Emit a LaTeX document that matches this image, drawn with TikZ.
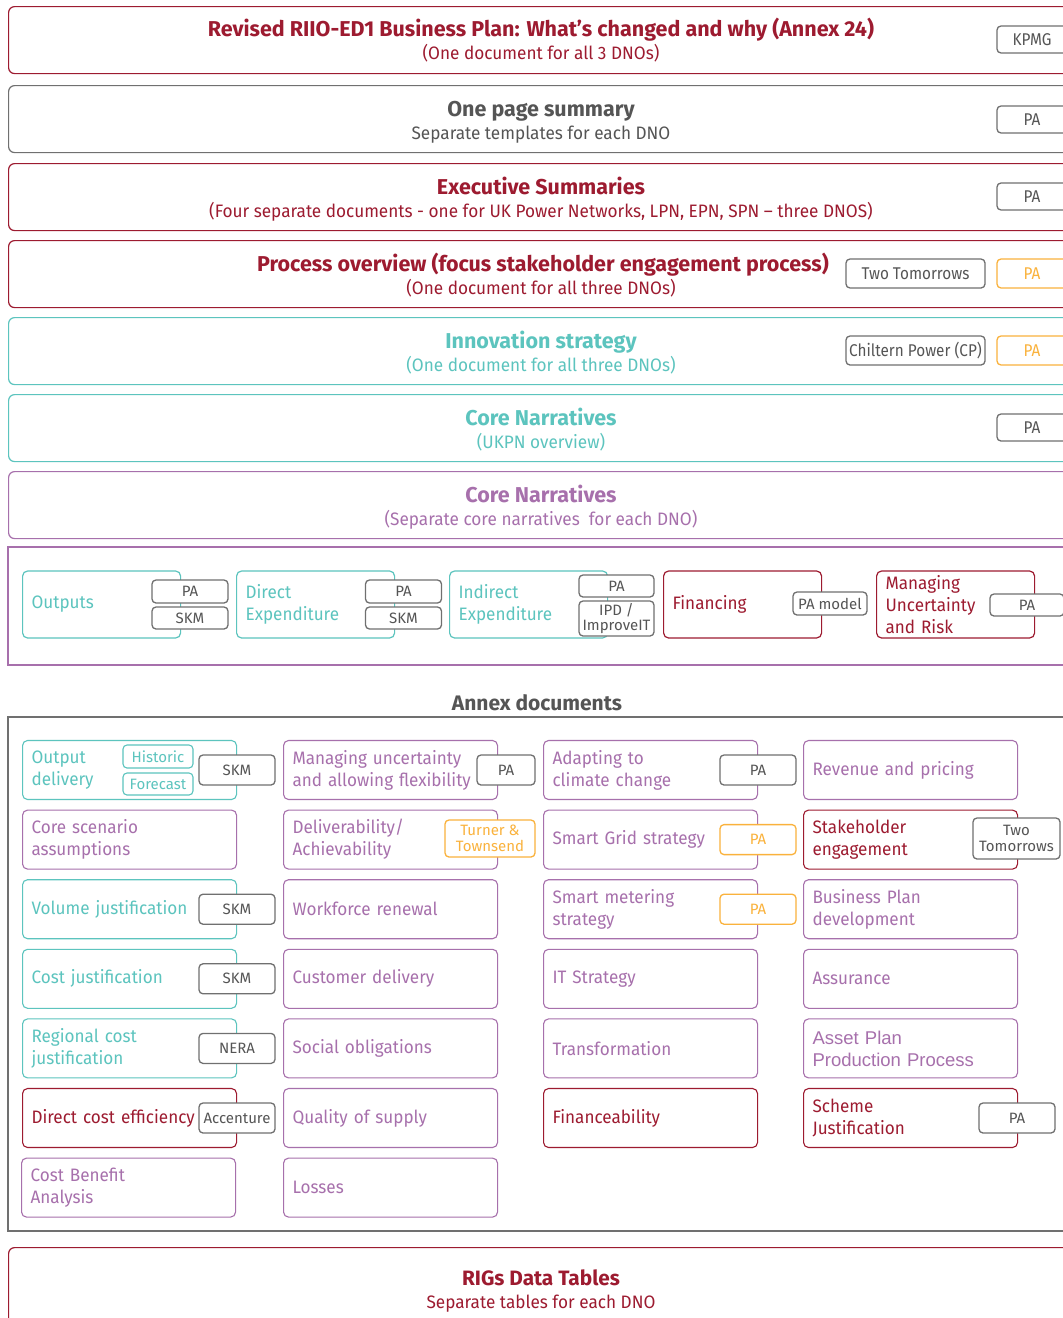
\documentclass[tikz,border=0pt]{standalone}
\usepackage{fontspec}
\setmainfont{Fira Sans}
\newfontfamily\condf[FakeStretch=0.955]{Fira Sans}
\newfontfamily\tagcondf[FakeStretch=0.9]{Fira Sans}
\newfontfamily\annexf[FakeStretch=0.95]{Fira Sans}
\newfontfamily\arialf{Liberation Sans}
\definecolor{cred}{RGB}{157,27,48}
\definecolor{cteal}{RGB}{92,196,190}
\definecolor{cpurple}{RGB}{167,112,172}
\definecolor{cgray}{RGB}{112,112,112}
\definecolor{ctxt}{RGB}{85,85,85}
\definecolor{corange}{RGB}{250,178,60}
\newcommand{\ttlfont}{\bfseries\fontsize{21.5}{24}\selectfont}
\newcommand{\subfont}{\condf\fontsize{18}{22}\selectfont}
\newcommand{\annexfont}{\annexf\fontsize{18}{22}\selectfont}
\newcommand{\tagfont}{\fontsize{15}{16}\selectfont}
\newcommand{\toptagfont}{\tagcondf\fontsize{17}{18}\selectfont}
\begin{document}
\begin{tikzpicture}[x=1pt,y=-1pt,
  frame/.style={draw=#1, line width=1.2pt, rounded corners=6pt, fill=white,
    inner sep=0pt, minimum width=1066pt, minimum height=67pt, anchor=north west},
  ttl/.style={text=#1, font=\ttlfont, anchor=base, inner sep=0pt},
  sub/.style={text=#1, font=\subfont, anchor=base, inner sep=0pt},
  tag/.style={draw=cgray, line width=1.3pt, rounded corners=4pt, fill=white,
    text=ctxt, inner sep=0pt, align=center, font=\tagfont},
  toptag/.style={tag, font=\toptagfont, minimum width=70pt, minimum height=27pt},
  otag/.style={draw=corange, text=corange},
  ttag/.style={draw=cteal, text=cteal, line width=1.1pt},
  mbox/.style={draw=#1, text=#1, line width=1.2pt, rounded corners=5pt, fill=white,
    text width=140pt, inner xsep=9pt, inner ysep=0pt, minimum height=67pt,
    align=left, anchor=west, font=\annexfont},
  abox/.style={draw=#1, text=#1, line width=1.1pt, rounded corners=5pt, fill=white,
    text width=196pt, inner xsep=9pt, inner ysep=0pt, minimum height=59pt,
    align=left, anchor=west, font=\annexfont},
]
\useasboundingbox (0,0) rectangle (1063,1318);
\clip (0,0) rectangle (1063,1318);
\fill[white] (0,0) rectangle (1063,1318);

% ---------- plan-level documents ----------
\node[frame=cred] (plan) at (8,6) {};
\node[ttl=cred] (planT) at (541,36) {Revised RIIO-ED1 Business Plan: What’s changed and why (Annex 24)};
\node[sub=cred] (planS) at (541,59) {(One document for all 3 DNOs)};
\node[toptag] (kpmg) at (1032,39.5) {KPMG};

\node[frame=cgray] (summ) at (8,85) {};
\node[ttl=ctxt] (summT) at (541,116) {One page summary};
\node[sub=ctxt] (summS) at (541,139) {Separate templates for each DNO};
\node[toptag] (summPA) at (1032,119.5) {PA};

\node[frame=cred] (exec) at (8,163) {};
\node[ttl=cred] (execT) at (541,194) {Executive Summaries};
\node[sub=cred] (execS) at (541,217) {(Four separate documents - one for UK Power Networks, LPN, EPN, SPN – three DNOS)};
\node[toptag] (execPA) at (1032,196.5) {PA};

\node[frame=cred] (proc) at (8,240) {};
\node[ttl=cred] (procT) at (543,271) {Process overview (focus stakeholder engagement process)};
\node[sub=cred] (procS) at (541,294) {(One document for all three DNOs)};
\node[toptag, minimum width=139pt, minimum height=29pt] (procTT) at (915.5,273.5) {Two Tomorrows};
\node[toptag, otag, minimum height=29pt] (procPA) at (1032,273.5) {PA};

\node[frame=cteal] (innov) at (8,317) {};
\node[ttl=cteal] (innovT) at (541,348) {Innovation strategy};
\node[sub=cteal] (innovS) at (541,371) {(One document for all three DNOs)};
\node[toptag, minimum width=139pt, minimum height=29pt] (innovCP) at (915.5,350.5) {Chiltern Power (CP)};
\node[toptag, otag, minimum height=29pt] (innovPA) at (1032,350.5) {PA};

\node[frame=cteal] (coreA) at (8,394) {};
\node[ttl=cteal] (coreAT) at (541,425) {Core Narratives};
\node[sub=cteal] (coreAS) at (541,448) {(UKPN overview)};
\node[toptag] (coreAPA) at (1032,427.5) {PA};

\node[frame=cpurple] (coreB) at (8,471) {};
\node[ttl=cpurple] (coreBT) at (541,502) {Core Narratives};
\node[sub=cpurple] (coreBS) at (541,525) {(Separate core narratives\ \ for each DNO)};

% ---------- core narrative chapters ----------
\draw[cpurple, line width=1.1pt] (8,547) rectangle (1075,665);
\node[mbox=cteal] (outp) at (22,604.5) {Outputs};
\node[tag, minimum width=76pt, minimum height=23pt] (outpPA) at (190,591.5) {PA};
\node[tag, minimum width=76pt, minimum height=22pt] (outpSKM) at (190,618) {SKM};

\node[mbox=cteal] (dexp) at (236,604.5) {Direct\\Expenditure};
\node[tag, minimum width=76pt, minimum height=23pt] (dexpPA) at (403.5,591.5) {PA};
\node[tag, minimum width=76pt, minimum height=22pt] (dexpSKM) at (403.5,618) {SKM};

\node[mbox=cteal] (iexp) at (449,604.5) {Indirect\\Expenditure};
\node[tag, minimum width=75pt, minimum height=22pt] (iexpPA) at (616.5,586) {PA};
\node[tag, minimum width=75pt, minimum height=35pt, font=\fontsize{15}{15}\selectfont] (iexpIPD) at (616.5,618.5) {IPD /\\ImproveIT};

\node[mbox=cred] (fin) at (663,604.5) {Financing};
\node[tag, minimum width=74pt, minimum height=23pt] (finPA) at (830,603.5) {PA model};

\node[mbox=cred] (mur) at (876,604.5) {Managing\\Uncertainty\\and Risk};
\node[tag, minimum width=74pt, minimum height=22pt] (murPA) at (1027,605) {PA};

% ---------- annex documents ----------
\node[text=ctxt, font=\bfseries\fontsize{21}{24}\selectfont, anchor=base, inner sep=0pt] (annexT) at (537,710) {Annex documents};
\draw[cgray, line width=1.2pt] (8,717) rectangle (1075,1231);

% column 1
\node[abox=cteal] (a11) at (22,770) {Output\\delivery};
\node[tag, ttag, minimum width=70pt, minimum height=23pt] (hist) at (158,756.5) {Historic};
\node[tag, ttag, minimum width=70pt, minimum height=22pt] (fore) at (158,784) {Forecast};
\node[tag, minimum width=76pt, minimum height=30pt] (a11t) at (237,770) {SKM};
\node[abox=cpurple] (a12) at (22,839.6) {Core scenario\\assumptions};
\node[abox=cteal] (a13) at (22,909.2) {Volume justification};
\node[tag, minimum width=76pt, minimum height=30pt] (a13t) at (237,909.2) {SKM};
\node[abox=cteal] (a14) at (22,978.8) {Cost justification};
\node[tag, minimum width=76pt, minimum height=30pt] (a14t) at (237,978.8) {SKM};
\node[abox=cteal] (a15) at (22,1048.4) {Regional cost\\justification};
\node[tag, minimum width=76pt, minimum height=30pt] (a15t) at (237,1048.4) {NERA};
\node[abox=cred] (a16) at (22,1118) {Direct cost efficiency};
\node[tag, minimum width=76pt, minimum height=30pt] (a16t) at (237,1118) {Accenture};
\node[abox=cpurple] (a17) at (21,1187.6) {Cost Benefit\\Analysis};

% column 2
\node[abox=cpurple] (a21) at (283,770) {Managing uncertainty\\and allowing flexibility};
\node[tag, minimum width=58pt, minimum height=30pt] (a21t) at (506,770) {PA};
\node[abox=cpurple] (a22) at (283,839.6) {Deliverability/\\Achievability};
\node[tag, otag, minimum width=90pt, minimum height=37pt, font=\fontsize{15}{16}\selectfont] (a22t) at (490,838.5) {Turner \&\\Townsend};
\node[abox=cpurple] (a23) at (283,909.2) {Workforce renewal};
\node[abox=cpurple] (a24) at (283,978.8) {Customer delivery};
\node[abox=cpurple] (a25) at (283,1048.4) {Social obligations};
\node[abox=cpurple] (a26) at (283,1118) {Quality of supply};
\node[abox=cpurple] (a27) at (283,1187.6) {Losses};

% column 3
\node[abox=cpurple] (a31) at (543,770) {Adapting to\\climate change};
\node[tag, minimum width=76pt, minimum height=30pt] (a31t) at (758,770) {PA};
\node[abox=cpurple] (a32) at (543,839.6) {Smart Grid strategy};
\node[tag, otag, minimum width=76pt, minimum height=30pt] (a32t) at (758,839.6) {PA};
\node[abox=cpurple] (a33) at (543,909.2) {Smart metering\\strategy};
\node[tag, otag, minimum width=76pt, minimum height=30pt] (a33t) at (758,909.2) {PA};
\node[abox=cpurple] (a34) at (543,978.8) {IT Strategy};
\node[abox=cpurple] (a35) at (543,1048.4) {Transformation};
\node[abox=cred] (a36) at (543,1118) {Financeability};

% column 4
\node[abox=cpurple] (a41) at (803,770) {Revenue and pricing};
\node[abox=cred] (a42) at (803,839.6) {Stakeholder\\engagement};
\node[tag, minimum width=87pt, minimum height=41pt, font=\fontsize{15}{16}\selectfont] (a42t) at (1016.5,838.5) {Two\\Tomorrows};
\node[abox=cpurple] (a43) at (803,909.2) {Business Plan\\development};
\node[abox=cpurple] (a44) at (803,978.8) {Assurance};
\node[abox=cpurple, font=\arialf\fontsize{18.5}{22}\selectfont] (a45) at (803,1048.4) {Asset Plan\\Production Process};
\node[abox=cred] (a46) at (803,1118) {Scheme\\Justification};
\node[tag, minimum width=76pt, minimum height=30pt] (a46t) at (1017,1118) {PA};

% ---------- data tables ----------
\node[frame=cred, minimum height=100pt] (rigs) at (8,1247) {};
\node[text=cred, font=\bfseries\fontsize{20.8}{24}\selectfont, anchor=base, inner sep=0pt] (rigsT) at (541,1285) {RIGs Data Tables};
\node[text=cred, font=\condf\fontsize{18}{22}\selectfont, anchor=base, inner sep=0pt] (rigsS) at (541,1308) {Separate tables for each DNO};
\end{tikzpicture}
\end{document}
